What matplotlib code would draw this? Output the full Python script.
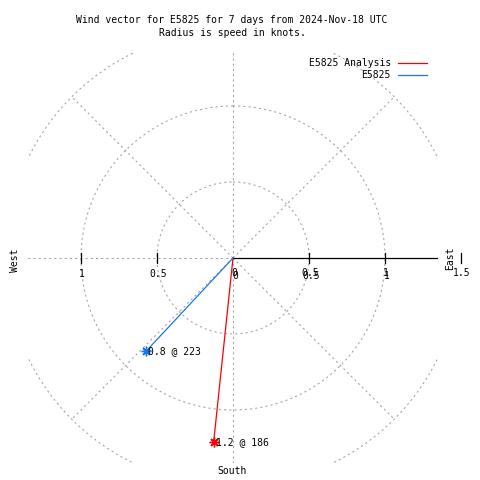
import numpy as np
import matplotlib.pyplot as plt
from matplotlib.lines import Line2D

# data
station = 'E5825'
series_names = ['E5825 Analysis', 'E5825']
series_colors = ['#ff0000', '#1a78e6']
speeds = [1.22, 0.84]          # knots
directions = [186, 223]        # degrees, clockwise from north
ring_radii = [0.5, 1.0, 1.5]
spoke_angles = [0, 45, 90, 135, 180, 225, 270, 315]
right_ticks = [0, 0.5, 1]
left_ticks = [-1, -0.5]
left_tick_labels = ['1', '0.5']
outer_tick = 1.5
rmax = 1.35

FONT = 'DejaVu Sans Mono'
FS = 7
W = H = 480


def px(x, y):
    # image pixel (from top-left) -> figure fraction
    return x / W, 1 - y / H


fig = plt.figure(figsize=(4.8, 4.8), dpi=100)
fig.patch.set_facecolor('white')

# plot square centred on (233, 258) px, 152 px per knot
scale = 152
cx, cy = 233, 258
half = rmax * scale
ax = fig.add_axes([(cx - half) / W, (H - cy - half) / H, 2 * half / W, 2 * half / H])
ax.set_xlim(-rmax, rmax)
ax.set_ylim(-rmax, rmax)
ax.set_aspect('equal')
ax.axis('off')

grid_kw = dict(color='#a0a0a0', lw=0.75, linestyle=(0, (2, 3)))
theta = np.linspace(0, 2 * np.pi, 400)
for r in ring_radii:
    ax.plot(r * np.sin(theta), r * np.cos(theta), **grid_kw)
for a in spoke_angles:
    rad = np.radians(a)
    ax.plot([0, 1.5 * np.sin(rad)], [0, 1.5 * np.cos(rad)], **grid_kw)

# polar r axis
ax.plot([0, rmax], [0, 0], color='black', lw=0.9)
for t in right_ticks[1:] + left_ticks + [outer_tick]:
    ax.plot([t, t], [-0.03, 0.03], color='black', lw=0.9, clip_on=False)

lab_kw = dict(textcoords='offset pixels', ha='center', va='center',
              family=FONT, fontsize=FS, annotation_clip=False)
for t in right_ticks:
    s = '%g' % t
    ax.annotate(s, (t, 0), xytext=(1, -15), **lab_kw)
    ax.annotate(s, (t, 0), xytext=(2, -18), **lab_kw)
for t, s in zip(left_ticks, left_tick_labels):
    ax.annotate(s, (t, 0), xytext=(1, -16), **lab_kw)
ax.annotate('%g' % outer_tick, (outer_tick, 0), xytext=(1, -15), **lab_kw)

# wind vectors
for name, col, r, d in zip(series_names, series_colors, speeds, directions):
    rad = np.radians(d)
    x, y = r * np.sin(rad), r * np.cos(rad)
    ax.plot([0, x], [0, y], color=col, lw=0.9)
    ax.plot(x, y, marker=(8, 2, 0), ms=7, mew=1, color=col, clip_on=False)
    ax.annotate('%.1f @ %d' % (r, d), (x, y), xytext=(2, 0),
                textcoords='offset pixels', ha='left', va='center',
                family=FONT, fontsize=FS, annotation_clip=False)

# compass labels
fig.text(*px(15, 260), 'West', rotation=90, ha='center', va='center', family=FONT, fontsize=FS)
fig.text(*px(450, 258), 'East', rotation=90, ha='center', va='center', family=FONT, fontsize=FS)
fig.text(*px(232, 471), 'South', ha='center', va='center', family=FONT, fontsize=FS)

# title
fig.text(*px(232, 20), 'Wind vector for %s for 7 days from 2024-Nov-18 UTC' % station,
         ha='center', va='center', family=FONT, fontsize=FS)
fig.text(*px(232, 33), 'Radius is speed in knots.',
         ha='center', va='center', family=FONT, fontsize=FS)

# legend
for i, (name, col) in enumerate(zip(series_names, series_colors)):
    yy = 63 + 12 * i
    fig.text(*px(391, yy), name, ha='right', va='center', family=FONT, fontsize=FS)
    x0, y0 = px(398, yy)
    x1, _ = px(427, yy)
    fig.add_artist(Line2D([x0, x1], [y0, y0], color=col, lw=0.9, transform=fig.transFigure))

fig.savefig('out.png', dpi=100)
